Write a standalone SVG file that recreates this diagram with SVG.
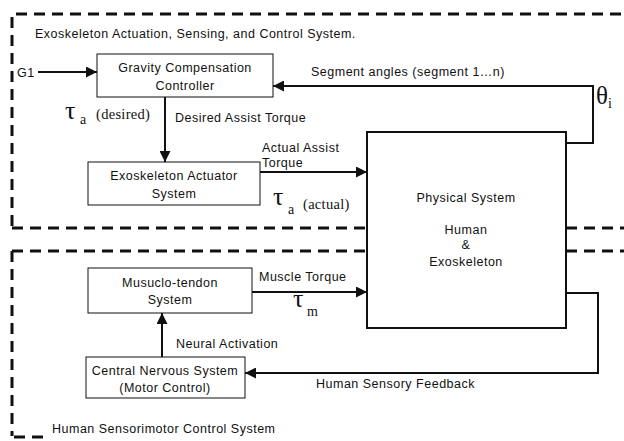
<svg xmlns="http://www.w3.org/2000/svg" width="624" height="441" viewBox="0 0 624 441">
<style>
text{font-family:"Liberation Sans",Arial,sans-serif;font-size:12.5px;letter-spacing:0.5px;fill:#111}
.c{text-anchor:middle}
.g{font-family:"Liberation Serif","Times New Roman",serif;letter-spacing:0}
.tau{font-size:26px}
.sub{font-size:14px}
.par{font-size:14.5px;letter-spacing:0.3px}
.box{fill:#fff;stroke:#111;stroke-width:1}
.pbox{fill:#fff;stroke:#111;stroke-width:2}
.dash{fill:none;stroke:#111;stroke-width:3;stroke-dasharray:11 7}
.ln{fill:none;stroke:#111;stroke-width:2}
</style>
<defs>
<marker id="ah" viewBox="0 0 10 10" refX="10" refY="5" markerWidth="5.5" markerHeight="5.5" orient="auto" markerUnits="strokeWidth">
<path d="M0,0 L10,5 L0,10 z" fill="#111"/>
</marker>
</defs>
<rect width="624" height="441" fill="#fff"/>
<g id="regions">
<path class="dash" d="M12,226 V14 H624"/>
<path class="dash" d="M12,228 H367 M566,228 H624"/>
<path class="dash" d="M12,251 H367 M566,251 H624"/>
<path class="dash" d="M12,251 V436"/>
<path class="dash" d="M14,437 H50"/>
<text x="35" y="38">Exoskeleton Actuation, Sensing, and Control System.</text>
<text x="52" y="433">Human Sensorimotor Control System</text>
</g>
<g id="connectors">
<path class="ln" d="M38,72 H97" marker-end="url(#ah)"/>
<path class="ln" d="M566,143 H593 V86 H273" marker-end="url(#ah)"/>
<path class="ln" d="M165,97 V162" marker-end="url(#ah)"/>
<path class="ln" d="M260,172 H367" marker-end="url(#ah)"/>
<path class="ln" d="M252,292 H367" marker-end="url(#ah)"/>
<path class="ln" d="M162,357 V313" marker-end="url(#ah)"/>
<path class="ln" d="M566,293 H598 V373 H245" marker-end="url(#ah)"/>
<text x="17" y="77">G1</text>
<text x="311" y="76">Segment angles (segment 1…n)</text>
<text class="g" x="596" y="104" style="font-size:25px">θ<tspan style="font-size:14px" dy="4">i</tspan></text>
<text class="g tau" x="65" y="119">τ</text>
<text class="g sub" x="80" y="124">a</text>
<text class="g par" x="96" y="119">(desired)</text>
<text x="175" y="122">Desired Assist Torque</text>
<text x="262" y="152">Actual Assist</text>
<text x="262" y="167">Torque</text>
<text class="g tau" x="273" y="205">τ</text>
<text class="g sub" x="288" y="214">a</text>
<text class="g par" x="303" y="209">(actual)</text>
<text x="259" y="281">Muscle Torque</text>
<text class="g tau" x="293" y="307">τ</text>
<text class="g sub" x="307" y="316">m</text>
<text x="176" y="348">Neural Activation</text>
<text x="316" y="388">Human Sensory Feedback</text>
</g>
<g id="gravity">
<rect class="box" x="97" y="54" width="176" height="43"/>
<text class="c" x="185" y="72">Gravity Compensation</text>
<text class="c" x="185" y="90">Controller</text>
</g>
<g id="actuator">
<rect class="box" x="88" y="162" width="172" height="43"/>
<text class="c" x="174" y="180">Exoskeleton Actuator</text>
<text class="c" x="174" y="198">System</text>
</g>
<g id="physical">
<rect class="pbox" x="367" y="132" width="199" height="196"/>
<text class="c" x="466" y="202">Physical System</text>
<text class="c" x="466" y="234">Human</text>
<text class="c" x="466" y="249">&amp;</text>
<text class="c" x="466" y="266">Exoskeleton</text>
</g>
<g id="musculo">
<rect class="box" x="88" y="268" width="164" height="45"/>
<text class="c" x="170" y="287">Musuclo-tendon</text>
<text class="c" x="170" y="304">System</text>
</g>
<g id="cns">
<rect class="box" x="86" y="357" width="159" height="41"/>
<text class="c" x="165" y="375">Central Nervous System</text>
<text class="c" x="165" y="392">(Motor Control)</text>
</g>
</svg>
